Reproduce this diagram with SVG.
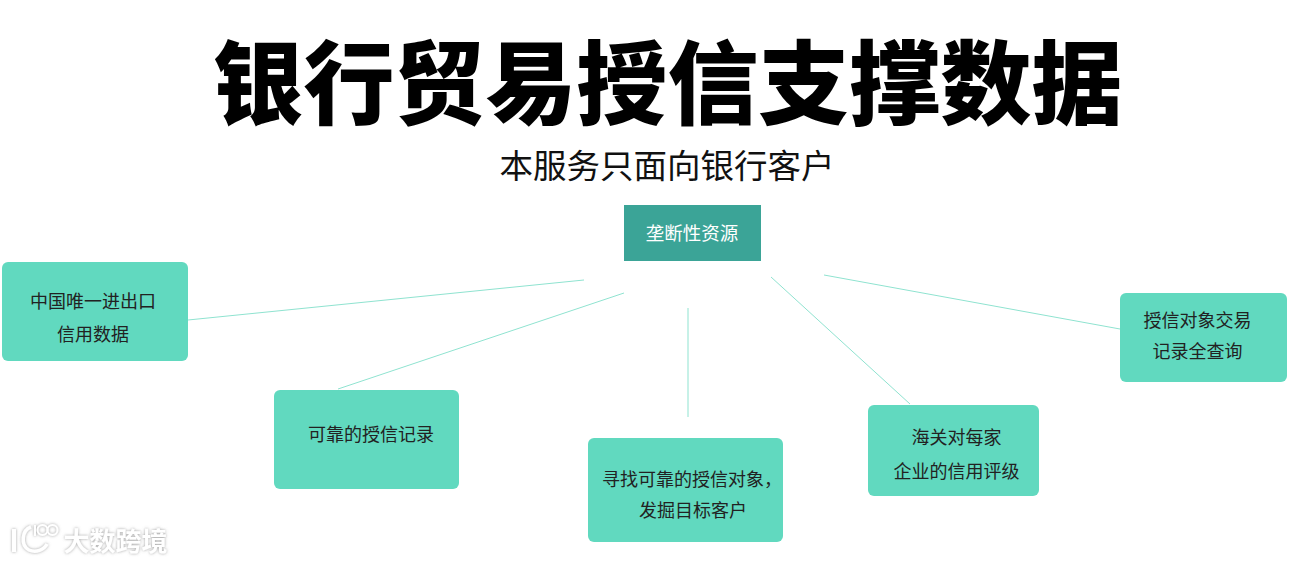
<svg xmlns="http://www.w3.org/2000/svg" width="1311" height="563" viewBox="0 0 1311 563">
<defs><filter id="glow" x="-20%" y="-30%" width="140%" height="160%"><feGaussianBlur in="SourceAlpha" stdDeviation="1.6" result="b"/><feFlood flood-color="#888" flood-opacity="0.8"/><feComposite in2="b" operator="in"/><feMerge><feMergeNode/><feMergeNode in="SourceGraphic"/></feMerge></filter></defs>
<style>
text{font-family:"Noto Sans CJK SC","Noto Sans",sans-serif}
.n{fill:#61d9bf}
.l{font-size:18px;fill:#222;text-anchor:middle}
.c{stroke:#8fe3d0;stroke-width:1;fill:none}
.w{fill:none;stroke:#fff}
</style>
<rect width="1311" height="563" fill="#fff"/>
<text x="667.500" y="116.500" font-size="91" font-weight="900" text-anchor="middle" fill="#000">银行贸易授信支撑数据</text>
<text x="667" y="178" font-size="33.500" text-anchor="middle" fill="#111">本服务只面向银行客户</text>
<g id="connectors">
<line class="c" x1="188" y1="320" x2="584" y2="280"/>
<line class="c" x1="338" y1="389" x2="624" y2="293"/>
<line class="c" x1="688" y1="308" x2="688" y2="417"/>
<line class="c" x1="771" y1="277" x2="910" y2="404"/>
<line class="c" x1="824" y1="275" x2="1120" y2="329"/>
</g>
<g id="center"><rect x="624" y="205" width="137" height="56" fill="#3ba497"/><text x="692" y="239.500" font-size="18.500" fill="#fff" text-anchor="middle">垄断性资源</text></g>
<g id="n1"><rect class="n" x="2" y="262" width="186" height="99" rx="6"/><text class="l" x="93" y="307.500">中国唯一进出口</text><text class="l" x="93" y="341">信用数据</text></g>
<g id="n2"><rect class="n" x="274" y="390" width="185" height="99" rx="6"/><text class="l" x="371" y="440.500">可靠的授信记录</text></g>
<g id="n3"><rect class="n" x="588" y="438" width="195" height="104" rx="6"/><text class="l" x="692" y="486">寻找可靠的授信对象，</text><text class="l" x="693" y="517">发掘目标客户</text></g>
<g id="n4"><rect class="n" x="868" y="405" width="171" height="91" rx="6"/><text class="l" x="956.500" y="444">海关对每家</text><text class="l" x="956.500" y="478">企业的信用评级</text></g>
<g id="n5"><rect class="n" x="1120" y="293" width="167" height="89" rx="6"/><text class="l" x="1197.500" y="327">授信对象交易</text><text class="l" x="1197.500" y="358">记录全查询</text></g>
<g id="watermark" filter="url(#glow)">
<path class="w" stroke-width="4" d="M14 529V552"/>
<path class="w" stroke-width="3.500" d="M31 527C22 530 20 545 29 550C36 553 44 550 47 544"/>
<path class="w" stroke-width="2" d="M35 525V536"/>
<circle class="w" stroke-width="2" cx="42.500" cy="530" r="5"/>
<circle class="w" stroke-width="2" cx="52.500" cy="530" r="5"/>
<text x="115.500" y="550.500" font-size="26" font-weight="700" text-anchor="middle" fill="#fff">大数跨境</text>
</g>
</svg>
